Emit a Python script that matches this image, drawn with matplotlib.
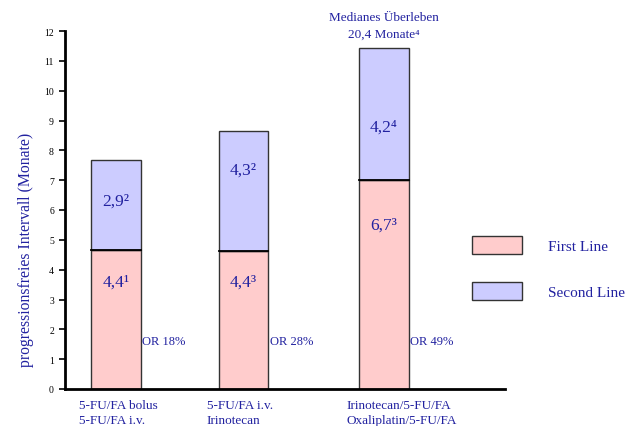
import matplotlib.pyplot as plt
from matplotlib.patches import Patch

plt.rcParams['font.family'] = ['Liberation Serif', 'DejaVu Serif']

positions = [1.0, 2.0, 3.1]
first_line = [4.65, 4.62, 7.0]
second_line = [3.02, 4.02, 4.42]
first_labels = ['4,4¹', '4,4³', '6,7³']
second_labels = ['2,9²', '4,3²', '4,2⁴']
first_label_y = [3.6, 3.6, 5.5]
second_label_y = [6.3, 7.35, 8.8]
or_labels = ['OR 18%', 'OR 28%', 'OR 49%']
categories = ['5-FU/FA bolus\n5-FU/FA i.v.',
              '5-FU/FA i.v.\nIrinotecan',
              'Irinotecan/5-FU/FA\nOxaliplatin/5-FU/FA']

blue = '#2222a0'
pink = '#ffcccc'
lilac = '#ccccff'
w = 0.39

fig = plt.figure(figsize=(6.29, 4.27), dpi=100)
ax = fig.add_axes([65 / 629, 1 - 390 / 427, 440 / 629, 358 / 427])

ax.bar(positions, first_line, w, color=pink, edgecolor='#333333', linewidth=1)
ax.bar(positions, second_line, w, bottom=first_line, color=lilac,
       edgecolor='#333333', linewidth=1)
for i in range(3):
    ax.plot([positions[i] - w / 2, positions[i] + w / 2],
            [first_line[i], first_line[i]], color='black', lw=1.3)

for i in range(3):
    ax.text(positions[i], first_label_y[i], first_labels[i], ha='center',
            va='center', color=blue, fontsize=12.5)
    ax.text(positions[i], second_label_y[i], second_labels[i], ha='center',
            va='center', color=blue, fontsize=12.5)
    ax.text(positions[i] + w / 2 + 0.01, 1.6, or_labels[i], ha='left',
            va='center', color=blue, fontsize=9)
    ax.text(positions[i] - 0.29, -0.35, categories[i], ha='left', va='top',
            color=blue, fontsize=9.5, linespacing=1.3)

ax.text(positions[2], 11.72, 'Medianes Überleben\n20,4 Monate⁴', ha='center',
        va='bottom', color=blue, fontsize=9.5, linespacing=1.45)

ax.set_xlim(0.6, 4.05)
ax.set_ylim(0, 12)
ax.set_yticks(range(13))
ax.set_xticks([])
ax.tick_params(axis='y', labelsize=7, length=4, width=1.2, pad=4)
ax.spines['top'].set_visible(False)
ax.spines['right'].set_visible(False)
ax.spines['left'].set_linewidth(2)
ax.spines['bottom'].set_linewidth(2)
fig.text(26 / 629, 1 - 250 / 427, 'progressionsfreies Intervall (Monate)',
         rotation=90, ha='center', va='center', color=blue, fontsize=11.3)

handles = [Patch(facecolor=pink, edgecolor='#333333'),
           Patch(facecolor=lilac, edgecolor='#333333')]
fig.legend(handles, ['First Line', 'Second Line'], loc='upper left',
           bbox_to_anchor=(464 / 629, 1 - 229 / 427), frameon=False,
           fontsize=11, handlelength=3.27, handleheight=1.44,
           labelspacing=1.85, handletextpad=1.7, borderpad=0,
           labelcolor=blue)

fig.savefig('out.png', dpi=100)
